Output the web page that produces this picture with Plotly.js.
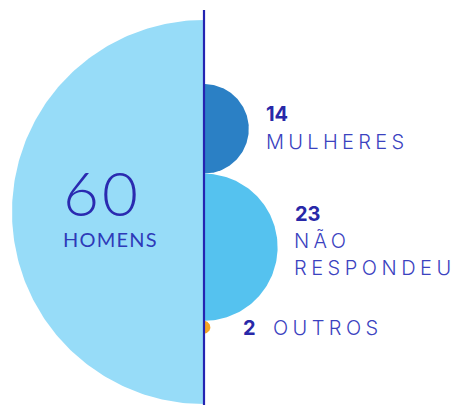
<!DOCTYPE html>
<html><head><meta charset="utf-8">
<script src="https://cdn.plot.ly/plotly-3.0.1.min.js"></script>
<style>body{margin:0;background:#fff}#chart{width:459px;height:405px}</style>
</head><body><div id="chart"></div>
<script>
// Data
const mainCategory = "HOMENS";
const mainValue = 60;
const sideCategories = ["MULHERES", "NÃO", "RESPONDEU", "OUTROS"];
const sideValues = [14, 23, 2];
const mainColor = "#97DCF8";
const sideColors = ["#2B80C5", "#55C2EF", "#F6A623"];

function halfCircle(cy, r, side, n) {
  const xs = [], ys = [];
  for (let i = 0; i <= n; i++) {
    const t = -Math.PI / 2 + Math.PI * i / n;
    xs.push(side * r * Math.cos(t));
    ys.push(cy + r * Math.sin(t));
  }
  xs.push(xs[0]); ys.push(ys[0]);
  return {xs, ys};
}

const traces = [];
// main half circle on the left, radius = value
const mainCy = -40;
const m = halfCircle(mainCy, mainValue, -1, 200);
traces.push({x: m.xs, y: m.ys, type: 'scatter', mode: 'lines', fill: 'toself',
  fillcolor: mainColor, line: {width: 0, color: mainColor}, hoverinfo: 'skip'});

// stacked half circles on the right
let stackTop = 0;
const centers = [];
sideValues.forEach((v, i) => {
  const cy = stackTop - v;
  centers.push(cy);
  stackTop -= 2 * v;
  const h = halfCircle(cy, v, 1, 120);
  traces.push({x: h.xs, y: h.ys, type: 'scatter', mode: 'lines', fill: 'toself',
    fillcolor: sideColors[i], line: {width: 0, color: sideColors[i]}, hoverinfo: 'skip'});
});

// divider line
traces.push({x: [0, 0], y: [23.1, -100.5], type: 'scatter', mode: 'lines',
  line: {color: '#2424B2', width: 2.2}, hoverinfo: 'skip'});

const numColor = '#2828A8';
const lblColor = '#3B42BF';
const ls = (s, sp) => '<span style="letter-spacing:' + sp + 'px">' + s + '</span>';
const lblFont = {family: 'Inter, Open Sans', size: 20, color: lblColor, weight: 300};
const numFont = {family: 'Inter, Open Sans', size: 20, color: numColor};

const annotations = [
  {x: -31.9, y: -33.8, text: ls(String(mainValue), 3), font: {family: 'Lato, Open Sans', size: 62, color: '#2A2AB0', weight: 300}, xanchor: 'center', yanchor: 'middle'},
  {x: -29.2, y: -48.4, text: ls(mainCategory, 1.2), font: {family: 'Lato, Open Sans', size: 20, color: '#2E3AB8'}, xanchor: 'center', yanchor: 'middle'},
  {x: 18.6, y: centers[0] + 4.5, text: '<b>' + sideValues[0] + '</b>', font: numFont, xanchor: 'left', yanchor: 'middle'},
  {x: 18.6, y: centers[0] - 4.1, text: ls(sideCategories[0], 4.3), font: lblFont, xanchor: 'left', yanchor: 'middle'},
  {x: 27.9, y: centers[1] + 10.5, text: '<b>' + sideValues[1] + '</b>', font: numFont, xanchor: 'left', yanchor: 'middle'},
  {x: 27.5, y: centers[1] + 2.1, text: ls(sideCategories[1], 4.4), font: lblFont, xanchor: 'left', yanchor: 'middle'},
  {x: 27.5, y: centers[1] - 6.5, text: ls(sideCategories[2], 4.5), font: lblFont, xanchor: 'left', yanchor: 'middle'},
  {x: 11.6, y: centers[2] - 0.25, text: '<b>' + sideValues[2] + '</b>', font: numFont, xanchor: 'left', yanchor: 'middle'},
  {x: 20.8, y: centers[2] - 0.25, text: ls(sideCategories[3], 4.4), font: lblFont, xanchor: 'left', yanchor: 'middle'}
].map(a => Object.assign({xref: 'x', yref: 'y', showarrow: false, align: 'left'}, a));

const layout = {
  width: 459, height: 405,
  margin: {l: 0, r: 0, t: 0, b: 0},
  paper_bgcolor: '#fff', plot_bgcolor: '#fff',
  showlegend: false,
  xaxis: {range: [-63.75, 79.69], visible: false, fixedrange: true},
  yaxis: {range: [-100.3, 26.25], visible: false, fixedrange: true},
  annotations: annotations
};
Plotly.newPlot('chart', traces, layout, {displayModeBar: false, staticPlot: true});
</script></body></html>
